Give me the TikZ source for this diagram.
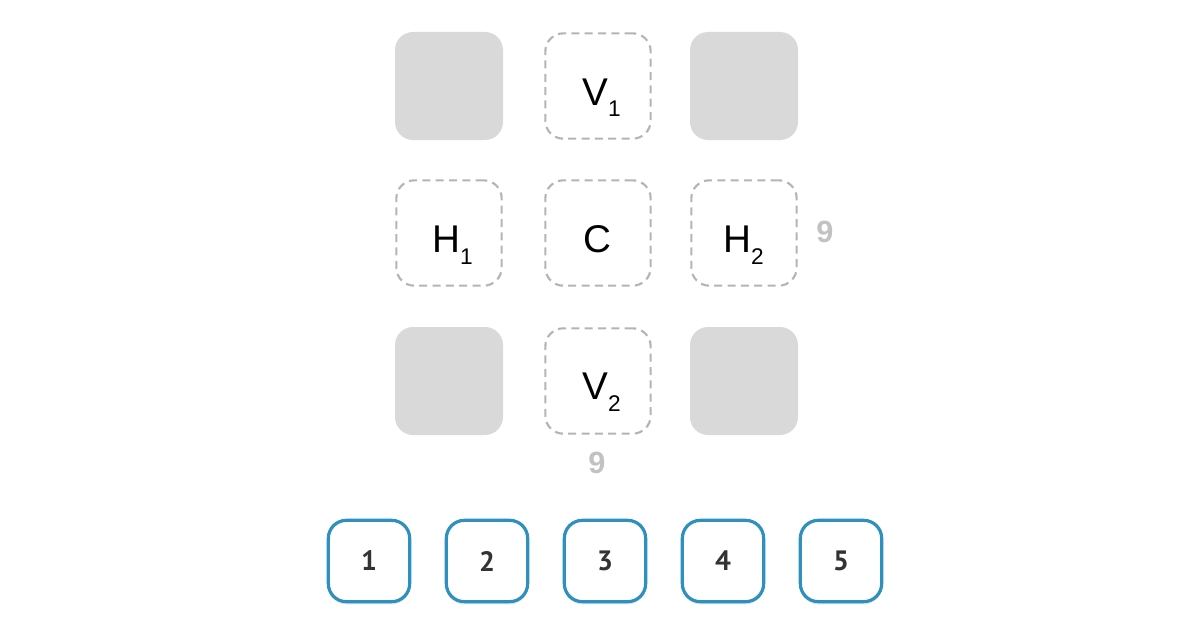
\documentclass[tikz,border=0pt]{standalone}
\usepackage{fontspec}
\setmainfont{Liberation Sans}
\newfontfamily\numfont{PT Sans}
\usetikzlibrary{shadows}
\definecolor{cellgray}{HTML}{D9D9D9}
\definecolor{dashgray}{HTML}{B4B4B4}
\definecolor{ninegray}{HTML}{C2C2C2}
\definecolor{btnblue}{HTML}{2F8FBE}
\definecolor{txtdark}{HTML}{333333}
\newcommand{\subx}[1]{\raisebox{-9pt}{\fontsize{17}{18}\selectfont #1}}
\tikzset{
  filled/.style={fill=cellgray, draw=none, rounded corners=13.5pt, minimum width=81pt, minimum height=81pt, inner sep=0pt},
  slot/.style={draw=dashgray, line width=1.6pt, dash pattern=on 6pt off 4pt, rounded corners=13.5pt, minimum width=79pt, minimum height=79pt, inner sep=0pt},
  lbl/.style={anchor=base west, inner sep=0pt, font=\fontsize{29}{30}\selectfont, text=black},
  nine/.style={text=ninegray, font=\fontsize{23}{24}\selectfont\bfseries},
  btn/.style={draw=btnblue, fill=white, line width=2.4pt, rounded corners=13.5pt, minimum width=61pt, minimum height=61pt, inner sep=0pt, font=\numfont\bfseries\fontsize{21}{22}\selectfont, text=txtdark, drop shadow={opacity=0.2, shadow xshift=0pt, shadow yshift=-2pt, fill=btnblue!40!gray}}
}
\begin{document}
\begin{tikzpicture}[x=0.75pt,y=-0.75pt]
\useasboundingbox (0,0) rectangle (1200,635);
\node[filled] (tl) at (449,86) {};
\node[slot] (v1) at (598,86) {};
\node[filled] (tr) at (744,86) {};
\node[slot] (h1) at (449,233) {};
\node[slot] (c) at (598,233) {};
\node[slot] (h2) at (744,233) {};
\node[filled] (bl) at (449,381) {};
\node[slot] (v2) at (598,381) {};
\node[filled] (br) at (744,381) {};
\node[lbl] (v1t) at (582,105) {V\subx{1}};
\node[lbl] (h1t) at (432,252) {H\subx{1}};
\node[lbl] (ct) at (583,252) {C};
\node[lbl] (h2t) at (723,252) {H\subx{2}};
\node[lbl] (v2t) at (582,399) {V\subx{2}};
\node[nine] (n1) at (825,232) {9};
\node[nine] (n2) at (597,463) {9};
\node[btn] (b1) at (369,561) {1};
\node[btn] (b2) at (487,561) {2};
\node[btn] (b3) at (605,561) {3};
\node[btn] (b4) at (723,561) {4};
\node[btn] (b5) at (841,561) {5};
\end{tikzpicture}
\end{document}
